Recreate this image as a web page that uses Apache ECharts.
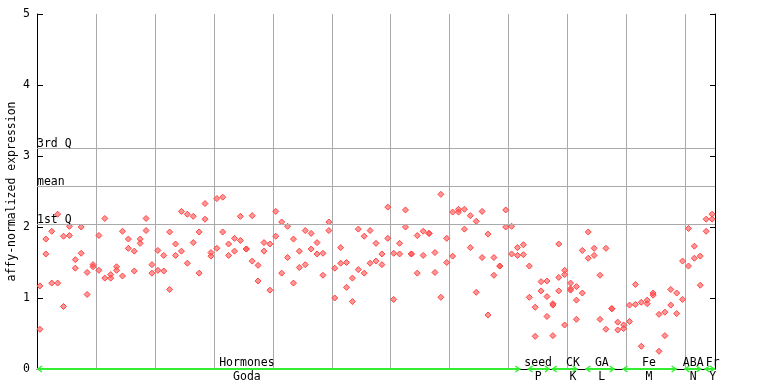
<!DOCTYPE html>
<html><head><meta charset="utf-8">
<script src="https://cdn.jsdelivr.net/npm/echarts@6/dist/echarts.min.js"></script>
<style>html,body{margin:0;padding:0;background:#fff}#c{width:768px;height:384px}</style>
</head><body><div id="c"></div>
<script>
// ---- data ----
const yTicks = [0, 1, 2, 3, 4, 5];
const statNames = ['3rd Q', 'mean', '1st Q'];
const statValues = [3.108, 2.585, 2.038];
const groupNames = ['Hormones', 'seed', 'CK', 'GA', 'Fe', 'ABA', 'Fr'];
const groupCodes = ['Goda', 'P', 'K', 'L', 'M', 'N', 'Y'];
const groupStart = [0, 83.2, 87.3, 93, 99.3, 109.8, 113.2];
const groupEnd = [82, 87, 91.7, 98, 108.5, 112.7, 115];
const groupLabelAt = [35.6, 85, 90.9, 95.8, 103.8, 111.3, 114.6];
// expression values per sample position (left to right)
const expression = [
 [0.56,1.17],[1.83,1.62],[1.94,1.21],[2.18,1.21],[1.87,0.88],[2.01,1.88],[1.54,1.42],[2.00,1.63],[1.36,1.05],[1.47,1.44],
 [1.88,1.39],[2.12,1.28],[1.33,1.28],[1.44,1.39],[1.94,1.31],[1.83,1.70],[1.66,1.38],[1.83,1.77],[2.12,1.95],[1.47,1.35],
 [1.67,1.39],[1.60,1.38],[1.93,1.12],[1.76,1.60],[2.22,1.66],[2.18,1.49],[2.15,1.78],[1.93,1.35],[2.33,2.11],[1.64,1.59],
 [2.40,1.70],[2.42,1.93],[1.76,1.60],[1.84,1.66],[2.15,1.81],[1.69,1.69],[2.16,1.52],[1.46,1.24],[1.78,1.66],[1.76,1.11],
 [2.22,1.87],[2.07,1.35],[2.01,1.57],[1.83,1.21],[1.66,1.43],[1.95,1.47],[1.91,1.69],[1.78,1.62],[1.63,1.32],[2.07,1.95],
 [1.42,1.00],[1.71,1.49],[1.50,1.15],[1.28,0.95],[1.97,1.40],[1.87,1.35],[1.95,1.49],[1.77,1.52],[1.62,1.47],[2.28,1.84],
 [1.63,0.98],[1.77,1.62],[2.24,2.00],[1.62,1.62],[1.88,1.35],[1.94,1.60],[1.91,1.91],[1.64,1.36],[2.46,1.01],[1.84,1.50],
 [2.21,1.59],[2.25,2.21],[2.25,1.97],[2.16,1.71],[2.08,1.08],[2.22,1.57],[1.90,0.76],[1.57,1.32],[1.45,1.45],[2.24,2.00],
 [2.01,1.62],[1.71,1.60],[1.75,1.61],[1.45,1.01],[0.87,0.46],[1.23,1.10],[1.24,1.02,0.74],[0.92,0.90,0.47],[1.76,1.29,1.10],[1.39,1.33,0.62],
 [1.21,1.13,1.11],[1.16,0.97,0.70],[1.67,1.07],[1.93,1.56],[1.70,1.60],[1.32,0.70],[1.70,0.56],[0.85,0.85],[0.66,0.55],[0.62,0.57],
 [0.90,0.67],[1.19,0.91],[0.94,0.32],[0.97,0.92],[1.07,1.04],[0.77,0.25],[0.80,0.47],[1.12,0.90],[1.07,0.78],[1.52,0.98],
 [1.98,1.45],[1.73,1.56],[1.59,1.18],[2.11,1.94],[2.18,2.11]
];

// ---- build ----
const FONT = 'DejaVu Sans Mono';
const FS = 11.5;
const points = [];
expression.forEach((vals, i) => vals.forEach(v => points.push([i + 0.5, v])));
const groups = groupStart.map((s, k) => [s, groupEnd[k], groupLabelAt[k], k]);

const chart = echarts.init(document.getElementById('c'), null, {renderer: 'canvas'});
chart.setOption({
  animation: false,
  grid: {left: 37, right: 53, top: 14, bottom: 15, containLabel: false, outerBoundsMode: 'none'},
  xAxis: {
    type: 'value', min: 0, max: 115, interval: 10,
    axisLine: {show: true, onZero: false, lineStyle: {color: '#000', width: 1}},
    axisTick: {show: false}, axisLabel: {show: false},
    splitLine: {show: true, lineStyle: {color: '#aaaaaa', width: 1}}
  },
  yAxis: [{
    type: 'value', min: 0, max: 5, interval: 1,
    axisLine: {show: true, lineStyle: {color: '#000'}},
    axisTick: {show: true, inside: true, length: 6, lineStyle: {color: '#000'}},
    axisLabel: {fontFamily: FONT, fontSize: FS, color: '#000', margin: 7,
      formatter: v => yTicks.includes(v) ? String(v) : ''},
    splitLine: {show: false},
    name: 'affy-normalized expression', nameLocation: 'middle', nameRotate: 90, nameGap: 19,
    nameMoveOverlap: false,
    nameTextStyle: {fontFamily: FONT, fontSize: FS, color: '#000'}
  }, {
    type: 'value', min: 0, max: 5, interval: 1, position: 'right',
    axisLine: {show: true, lineStyle: {color: '#000'}},
    axisTick: {show: true, inside: true, length: 5, lineStyle: {color: '#000'}},
    axisLabel: {show: false}, splitLine: {show: false}
  }],
  series: [{
    type: 'scatter',
    data: points,
    symbol: 'diamond', symbolSize: 6,
    itemStyle: {color: 'rgba(255,80,80,0.6)', borderColor: '#ff4444', borderWidth: 1, opacity: 1},
    z: 3,
    markLine: {
      silent: true, symbol: 'none', animation: false,
      lineStyle: {color: '#aaaaaa', type: 'solid', width: 1},
      label: {show: true, position: 'insideStartTop', distance: [0, -2],
        formatter: p => p.name, fontFamily: FONT, fontSize: FS, color: '#000'},
      data: statValues.map((v, k) => ({yAxis: v, name: statNames[k]}))
    }
  }, {
    type: 'custom',
    data: groups,
    clip: false, z: 5, silent: true,
    renderItem: (params, api) => {
      const k = api.value(3);
      const s = api.coord([api.value(0), 0]);
      const e = api.coord([api.value(1), 0]);
      const c = api.coord([api.value(2), 0]);
      const y = s[1];
      const g = '#33ee33';
      return {type: 'group', children: [
        {type: 'line', shape: {x1: s[0], y1: y, x2: e[0], y2: y}, style: {stroke: g, lineWidth: 2}},
        {type: 'polyline', shape: {points: [[s[0] + 5, y - 3], [s[0] + 1, y], [s[0] + 5, y + 3]]}, style: {stroke: g, lineWidth: 1.5, fill: null}},
        {type: 'polyline', shape: {points: [[e[0] - 5, y - 3], [e[0] - 1, y], [e[0] - 5, y + 3]]}, style: {stroke: g, lineWidth: 1.5, fill: null}},
        {type: 'text', style: {x: c[0], y: y, text: groupNames[k], align: 'center', verticalAlign: 'bottom', fontFamily: FONT, fontSize: FS, fill: '#000'}},
        {type: 'text', style: {x: c[0], y: y + 2, text: groupCodes[k], align: 'center', verticalAlign: 'top', fontFamily: FONT, fontSize: FS, fill: '#000'}}
      ]};
    }
  }]
});
</script>
</body></html>
